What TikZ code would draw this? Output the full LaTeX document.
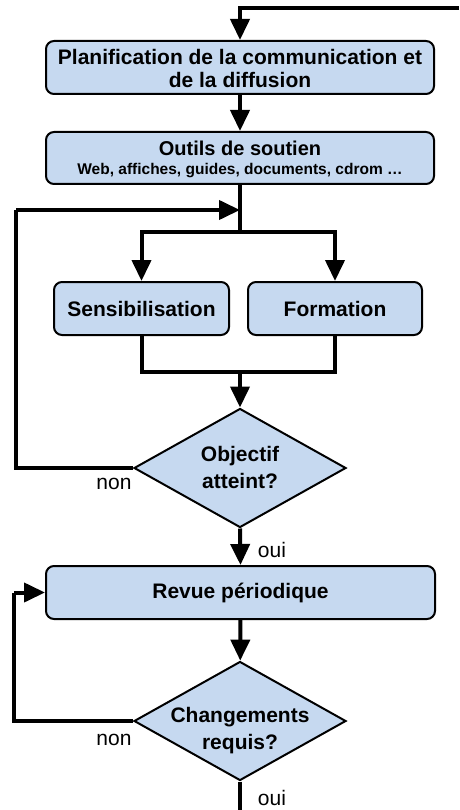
\documentclass[tikz,border=0pt]{standalone}
\usepackage{fontspec}
\setmainfont{Liberation Sans}
\usetikzlibrary{arrows.meta,shapes.geometric}
\definecolor{boxblue}{RGB}{198,217,240}
\newcommand{\lowertext}[2]{\raisebox{-#1}[\height][\depth]{\begin{tabular}{@{}c@{}}#2\end{tabular}}}
\newcommand{\flattext}[2]{\raisebox{-#1}[0pt][0pt]{\makebox[0pt]{\begin{tabular}{@{}c@{}}#2\end{tabular}}}}
\tikzset{
  box/.style={draw=black, line width=2pt, fill=boxblue, rounded corners=8pt,
    inner sep=0pt, align=center, font=\fontsize{21}{23}\selectfont\bfseries},
  decide/.style={diamond, draw=black, line width=2pt, fill=boxblue, aspect=1.78,
    inner sep=0pt, minimum width=212pt, minimum height=119pt,
    font=\fontsize{21}{25}\selectfont\bfseries},
  conn/.style={line width=4pt, draw=black},
  arr/.style={conn, -{Triangle[length=21pt,width=19pt]}},
  lbl/.style={font=\fontsize{21}{23}\selectfont, inner sep=0pt}
}
\begin{document}
\begin{tikzpicture}[x=1pt,y=-1pt]
\useasboundingbox (0,0) rectangle (459,810);
% nodes
\node[box, minimum width=388pt, minimum height=53pt] (plan) at (240,67.5)
  {\lowertext{4pt}{Planification de la communication et\\de la diffusion}};
\node[box, minimum width=388pt, minimum height=52pt] (outils) at (240,158)
  {\lowertext{2pt}{{\fontsize{20}{22}\selectfont Outils de soutien}\\[-4pt]{\fontsize{15.5}{17}\selectfont Web, affiches, guides, documents, cdrom …}}};
\node[box, minimum width=175pt, minimum height=53pt] (sens) at (141.5,308.5) {Sensibilisation};
\node[box, minimum width=174pt, minimum height=53pt] (form) at (335,308.5) {Formation};
\node[decide] (obj) at (240,468) {\flattext{7pt}{Objectif\\[2pt]atteint?}};
\node[box, minimum width=389pt, minimum height=53pt] (revue) at (240.5,592.5) {Revue périodique};
\node[decide] (chg) at (240,721) {\flattext{15pt}{Changements\\[2pt]requis?}};
% helper coordinates
\coordinate (topR) at (459,8);
\coordinate (br) at (240,232);
\coordinate (jn) at (240,372);
\coordinate (in1) at (240,210);
\coordinate (l1) at (16,210);
\coordinate (l2) at (14,592.5);
\coordinate (endpt) at (240,810);
% connectors
\draw[arr] (topR) -| (plan.north);
\draw[arr] (plan) -- (outils);
\draw[conn] (outils.south) -- (br);
\draw[arr] (br) -| (sens.north);
\draw[arr] (br) -| (form.north);
\draw[conn] (sens.south) |- (jn);
\draw[conn] (form.south) |- (jn);
\draw[arr] (jn) -- (obj.north);
\draw[conn] (obj.west) -| (l1);
\draw[arr] (l1) -- (in1);
\draw[arr] (obj.south) -- (revue.north);
\draw[arr] (revue) -- (chg);
\draw[conn] (chg.west) -| (l2);
\draw[arr] (l2) -- (revue.west);
\draw[conn] (chg.south) -- (endpt);
% labels
\node[lbl] (non1) at (114,484) {non};
\node[lbl] (oui1) at (272,550) {oui};
\node[lbl] (non2) at (114,740) {non};
\node[lbl] (oui2) at (272,798) {oui};
\end{tikzpicture}
\end{document}
